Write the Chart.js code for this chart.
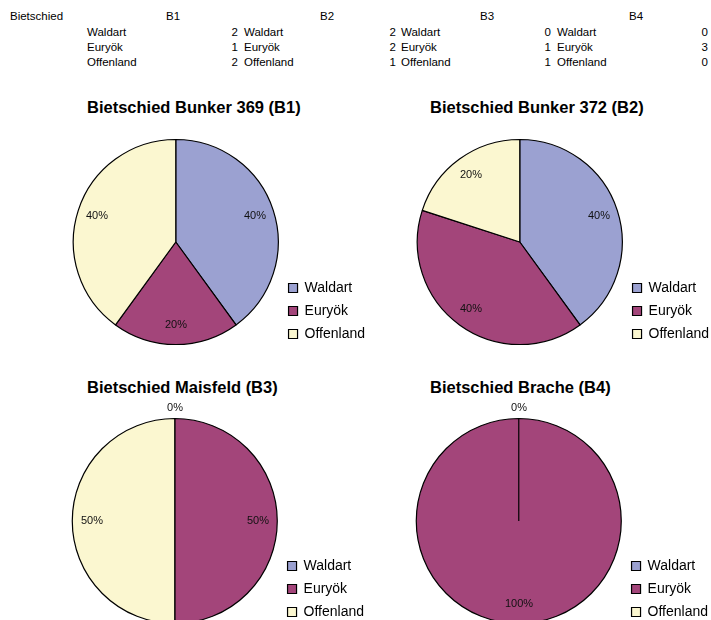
<!DOCTYPE html>
<html>
<head>
<meta charset="utf-8">
<script src="https://cdn.jsdelivr.net/npm/chart.js@4.4.0/dist/chart.umd.min.js"></script>
<style>
  html, body { margin: 0; padding: 0; background: #fff; overflow: hidden; }
  body { width: 711px; height: 620px; position: relative; font-family: "Liberation Sans", Arial, sans-serif; color: #000; }
  .cell { position: absolute; font-size: 11.5px; line-height: 14px; white-space: nowrap; }
  .num { width: 30px; text-align: right; }
  .title { position: absolute; font-size: 16.5px; font-weight: bold; line-height: 20px; white-space: nowrap; }
  .chartBox { position: absolute; }
</style>
</head>
<body>
<script>
const groupLabel = 'Bietschied';
const sites = ['B1', 'B2', 'B3', 'B4'];
const categories = ['Waldart', 'Euryök', 'Offenland'];
const valuesB1 = [2, 1, 2];
const valuesB2 = [2, 2, 1];
const valuesB3 = [0, 1, 1];
const valuesB4 = [0, 3, 0];
const titles = ['Bietschied Bunker 369 (B1)', 'Bietschied Bunker 372 (B2)', 'Bietschied Maisfeld (B3)', 'Bietschied Brache (B4)'];
const allValues = [valuesB1, valuesB2, valuesB3, valuesB4];
const colors = ['#9ba1d1', '#a3457a', '#fbf7d0'];

// spreadsheet block at the top
const addCell = (text, left, top, cls) => {
    const el = document.createElement('div');
    el.className = 'cell' + (cls ? ' ' + cls : '');
    el.textContent = text;
    el.style.left = left + 'px';
    el.style.top = top + 'px';
    document.body.appendChild(el);
};

const headX = [166, 320, 480, 629];
const labelX = [87, 244, 401, 557];
const numRight = [238, 396, 551, 708];

addCell(groupLabel, 10, 9);
sites.forEach((s, i) => addCell(s, headX[i], 9));
categories.forEach((c, r) => {
    const top = 24.5 + r * 15;
    addCell(c, labelX[0], top);
    allValues.forEach((vals, i) => {
        addCell(String(vals[r]), numRight[i] - 30, top, 'num');
        if (i < 3) addCell(c, labelX[i + 1], top);
    });
});

// percent labels on the slices
const pctLabels = {
    id: 'pctLabels',
    afterDatasetsDraw(chart) {
        const ctx = chart.ctx;
        const meta = chart.getDatasetMeta(0);
        const data = chart.data.datasets[0].data;
        const total = data.reduce((a, b) => a + b, 0);
        const done = new Set();
        ctx.save();
        ctx.font = '11px "Liberation Sans", Arial, sans-serif';
        ctx.fillStyle = '#111';
        ctx.textAlign = 'center';
        ctx.textBaseline = 'middle';
        meta.data.forEach((arc, i) => {
            const p = arc.getProps(['x', 'y', 'startAngle', 'endAngle', 'outerRadius'], true);
            const mid = (p.startAngle + p.endAngle) / 2;
            const r = data[i] === 0 ? p.outerRadius + 11 : p.outerRadius * 0.81;
            const lx = Math.round(p.x + Math.cos(mid) * r);
            const ly = Math.round(p.y + Math.sin(mid) * r);
            const text = Math.round(data[i] / total * 100) + '%';
            const key = text + '@' + lx + ',' + ly;
            if (done.has(key)) return;
            done.add(key);
            ctx.fillText(text, lx, ly);
        });
        ctx.restore();
    }
};

// chart boxes: [left, top, width, height] and title position
const boxes = [
    [72, 104, 303, 246],
    [416, 104, 303, 246],
    [71, 384, 303, 244],
    [415, 384, 303, 244]
];
const titlePos = [[87, 97], [430, 97], [87, 377], [430, 377]];

sites.forEach((s, i) => {
    const t = document.createElement('div');
    t.className = 'title';
    t.textContent = titles[i];
    t.style.left = titlePos[i][0] + 'px';
    t.style.top = titlePos[i][1] + 'px';
    document.body.appendChild(t);

    const wrap = document.createElement('div');
    wrap.className = 'chartBox';
    wrap.style.left = boxes[i][0] + 'px';
    wrap.style.top = boxes[i][1] + 'px';
    const canvas = document.createElement('canvas');
    canvas.width = boxes[i][2];
    canvas.height = boxes[i][3];
    wrap.appendChild(canvas);
    document.body.appendChild(wrap);

    new Chart(canvas, {
        type: 'pie',
        data: {
            labels: categories,
            datasets: [{
                data: allValues[i],
                backgroundColor: colors,
                borderColor: '#000',
                borderWidth: 1.2,
                radius: 102.5
            }]
        },
        options: {
            responsive: false,
            animation: false,
            layout: { padding: { top: 30 } },
            plugins: {
                tooltip: { enabled: false },
                legend: {
                    position: 'right',
                    align: 'end',
                    labels: {
                        boxWidth: 9,
                        boxHeight: 9,
                        padding: 9,
                        color: '#000',
                        font: { family: '"Liberation Sans", Arial, sans-serif', size: 14 }
                    }
                }
            }
        },
        plugins: [pctLabels]
    });
});
</script>
</body>
</html>
